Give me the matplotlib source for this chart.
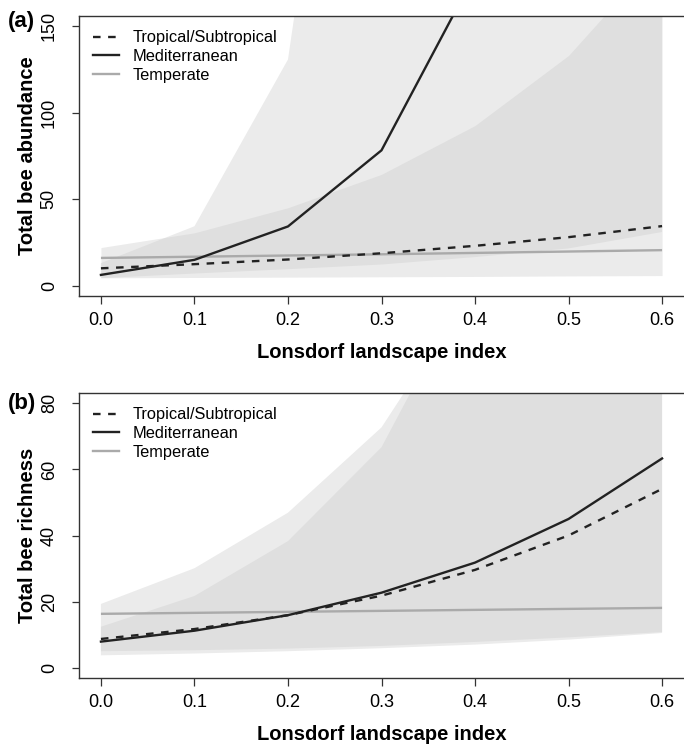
import matplotlib
matplotlib.use("Agg")
import matplotlib.pyplot as plt
from matplotlib import font_manager

# ---- data ----
x = [0.0, 0.1, 0.2, 0.3, 0.4, 0.5, 0.6]
xticks = [0.0, 0.1, 0.2, 0.3, 0.4, 0.5, 0.6]
xtick_labels = ["0.0", "0.1", "0.2", "0.3", "0.4", "0.5", "0.6"]

# (a) abundance
a_trop_mean = [10.0, 12.4, 15.1, 18.7, 23.0, 28.0, 34.4]
a_trop_lo = [4.5, 4.7, 4.9, 5.1, 5.3, 5.6, 5.8]
a_trop_hi = [22.0, 30.5, 45.0, 64.3, 92.5, 133.0, 193.0]
a_med_mean = [6.2, 14.9, 34.2, 78.2, 180.0, 410.0, 940.0]
a_med_lo = [4.3, 7.0, 9.5, 12.2, 16.5, 21.5, 31.0]
a_med_hi = [13.0, 34.3, 130.7, 500.0, 1940.0, 7640.0, 28500.0]
a_temp_mean = [16.0, 16.7, 17.4, 18.1, 18.9, 19.7, 20.5]
a_yticks = [0, 50, 100, 150]

# (b) richness
b_trop_mean = [8.7, 11.7, 15.9, 21.8, 29.6, 40.0, 54.1]
b_trop_lo = [3.75, 4.3, 5.0, 5.9, 7.0, 8.5, 10.5]
b_trop_hi = [19.3, 30.1, 46.9, 72.7, 116.0, 190.0, 290.0]
b_med_mean = [7.9, 11.2, 15.9, 22.7, 31.8, 45.0, 63.3]
b_med_lo = [5.0, 5.3, 5.8, 6.6, 7.8, 9.2, 10.8]
b_med_hi = [12.4, 21.7, 38.3, 66.7, 120.0, 220.0, 370.0]
b_temp_mean = [16.3, 16.6, 16.9, 17.2, 17.5, 17.8, 18.1]
b_yticks = [0, 20, 40, 60, 80]

names = ["Tropical/Subtropical", "Mediterranean", "Temperate"]

# ---- fonts ----
avail = {f.name for f in font_manager.fontManager.ttflist}
narrow = "Liberation Sans Narrow" if "Liberation Sans Narrow" in avail else "Liberation Sans"
plt.rcParams["font.family"] = ["Liberation Sans", "DejaVu Sans"]

fig = plt.figure(figsize=(6.84, 7.44), dpi=100)
W, H = 684, 744

def px_axes(l, t, r, b):
    return fig.add_axes([l / W, 1 - b / H, (r - l) / W, (b - t) / H])

band_col = (205 / 255, 205 / 255, 205 / 255)
frame_col = "#333333"

def draw(ax, tm, tl, th, mm, ml, mh, tem, ylim, yticks, ylabel, tag, tag_y):
    ax.fill_between(x, tl, th, color=band_col, alpha=0.4, linewidth=0)
    ax.fill_between(x, ml, mh, color=band_col, alpha=0.4, linewidth=0)
    ax.plot(x, tem, color="#aaaaaa", lw=1.7, solid_capstyle="butt")
    ax.plot(x, tm, color="#222222", lw=1.7, dashes=(3.2, 3.2))
    ax.plot(x, mm, color="#222222", lw=1.7)
    ax.set_xlim(-0.024, 0.624)
    ax.set_ylim(*ylim)
    ax.set_xticks(xticks)
    ax.set_xticklabels(xtick_labels, family=narrow, fontsize=13)
    ax.set_yticks(yticks)
    ax.set_yticklabels([str(v) for v in yticks], family=narrow, fontsize=13,
                       rotation=90, va="center")
    ax.tick_params(direction="out", length=5.4, width=0.9, color=frame_col)
    ax.tick_params(axis="x", pad=6)
    ax.tick_params(axis="y", pad=9.5)
    for s in ax.spines.values():
        s.set_color(frame_col)
        s.set_linewidth(1.0)
    ax.set_xlabel("Lonsdorf landscape index", fontsize=14.5, fontweight="bold",
                  family=narrow, labelpad=10)
    ax.set_ylabel(ylabel, fontsize=14.5, fontweight="bold", labelpad=3)
    fig.text(8 / W, 1 - tag_y / H, tag, fontsize=16, fontweight="bold",
             ha="left", va="center", family=narrow)
    handles = [
        plt.Line2D([], [], color="#222222", lw=1.7, dashes=(3.2, 3.2)),
        plt.Line2D([], [], color="#222222", lw=1.7),
        plt.Line2D([], [], color="#aaaaaa", lw=1.7),
    ]
    ax.legend(handles, names, loc="upper left", bbox_to_anchor=(0.0, 1.0),
              frameon=False, fontsize=11.8, handlelength=1.6, handletextpad=0.8,
              labelspacing=0.22, borderaxespad=0.5)

ax1 = px_axes(78.5, 15.7, 684.5, 296)
draw(ax1, a_trop_mean, a_trop_lo, a_trop_hi, a_med_mean, a_med_lo, a_med_hi,
     a_temp_mean, (-6, 156), a_yticks, "Total bee abundance", "(a)", 22)

ax2 = px_axes(78.5, 392.7, 684.5, 678.3)
draw(ax2, b_trop_mean, b_trop_lo, b_trop_hi, b_med_mean, b_med_lo, b_med_hi,
     b_temp_mean, (-3.2, 83.2), b_yticks, "Total bee richness", "(b)", 404)

fig.savefig("out.png", dpi=100)
